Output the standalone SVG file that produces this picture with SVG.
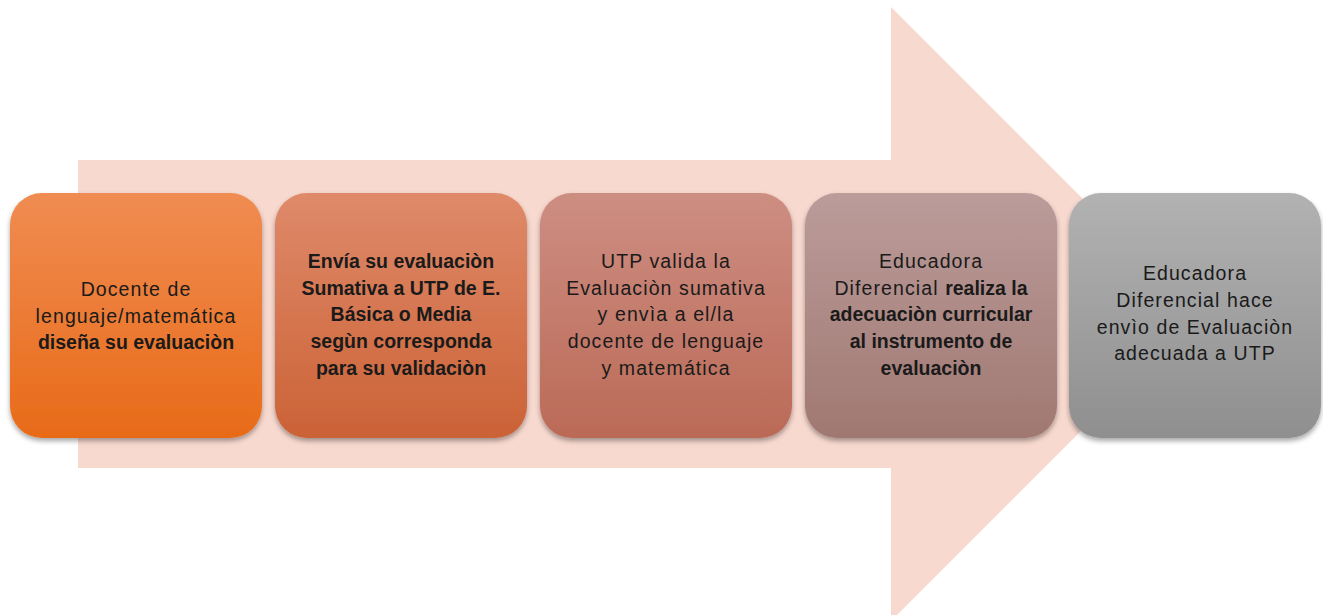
<svg xmlns="http://www.w3.org/2000/svg" width="1323" height="615" viewBox="0 0 1323 615">
<defs>
<linearGradient id="g1" x1="0" y1="0" x2="0" y2="1"><stop offset="0" stop-color="#F08C52"/><stop offset="1" stop-color="#E86B18"/></linearGradient>
<linearGradient id="g2" x1="0" y1="0" x2="0" y2="1"><stop offset="0" stop-color="#DF8A6A"/><stop offset="1" stop-color="#CB6236"/></linearGradient>
<linearGradient id="g3" x1="0" y1="0" x2="0" y2="1"><stop offset="0" stop-color="#CD8E82"/><stop offset="1" stop-color="#BB6A57"/></linearGradient>
<linearGradient id="g4" x1="0" y1="0" x2="0" y2="1"><stop offset="0" stop-color="#BB9C9A"/><stop offset="1" stop-color="#A07872"/></linearGradient>
<linearGradient id="g5" x1="0" y1="0" x2="0" y2="1"><stop offset="0" stop-color="#B2B2B2"/><stop offset="1" stop-color="#8F8F8F"/></linearGradient>
<filter id="sh" x="-10%" y="-10%" width="120%" height="125%"><feDropShadow dx="0" dy="3" stdDeviation="2.5" flood-color="#000" flood-opacity="0.35"/></filter>
</defs>
<style>
text{font-family:"Liberation Sans",Arial,sans-serif;font-size:19.5px;fill:#1a1a1a;text-anchor:middle;letter-spacing:1.1px}
.b{font-weight:bold;letter-spacing:0px}
</style>
<rect width="1323" height="615" fill="#fff"/>
<polygon id="bigarrow" points="78,160 891,160 891,7 1198,314 891,621 891,468 78,468" fill="#F8D9CF"/>
<g id="connectors"></g>
<g id="n1">
<rect x="10" y="193" width="252" height="245" rx="32" fill="url(#g1)" filter="url(#sh)"/>
<text x="136" y="296">Docente de</text>
<text x="136" y="323">lenguaje/matemática</text>
<text x="136" y="349" class="b">diseña su evaluaciòn</text>
</g>
<g id="n2">
<rect x="275" y="193" width="252" height="245" rx="32" fill="url(#g2)" filter="url(#sh)"/>
<text x="401" y="268" class="b">Envía su evaluaciòn</text>
<text x="401" y="295" class="b">Sumativa a UTP de E.</text>
<text x="401" y="321" class="b">Básica o Media</text>
<text x="401" y="348" class="b">segùn corresponda</text>
<text x="401" y="375" class="b">para su validaciòn</text>
</g>
<g id="n3">
<rect x="540" y="193" width="252" height="245" rx="32" fill="url(#g3)" filter="url(#sh)"/>
<text x="666" y="268">UTP valida la</text>
<text x="666" y="295">Evaluaciòn sumativa</text>
<text x="666" y="321">y envìa a el/la</text>
<text x="666" y="348">docente de lenguaje</text>
<text x="666" y="375">y matemática</text>
</g>
<g id="n4">
<rect x="805" y="193" width="252" height="245" rx="32" fill="url(#g4)" filter="url(#sh)"/>
<text x="931" y="268">Educadora</text>
<text x="931" y="295">Diferencial <tspan class="b">realiza la</tspan></text>
<text x="931" y="321" class="b">adecuaciòn curricular</text>
<text x="931" y="348" class="b">al instrumento de</text>
<text x="931" y="375" class="b">evaluaciòn</text>
</g>
<g id="n5">
<rect x="1069" y="193" width="252" height="245" rx="32" fill="url(#g5)" filter="url(#sh)"/>
<text x="1195" y="280">Educadora</text>
<text x="1195" y="307">Diferencial hace</text>
<text x="1195" y="334">envìo de Evaluaciòn</text>
<text x="1195" y="360">adecuada a UTP</text>
</g>
</svg>
